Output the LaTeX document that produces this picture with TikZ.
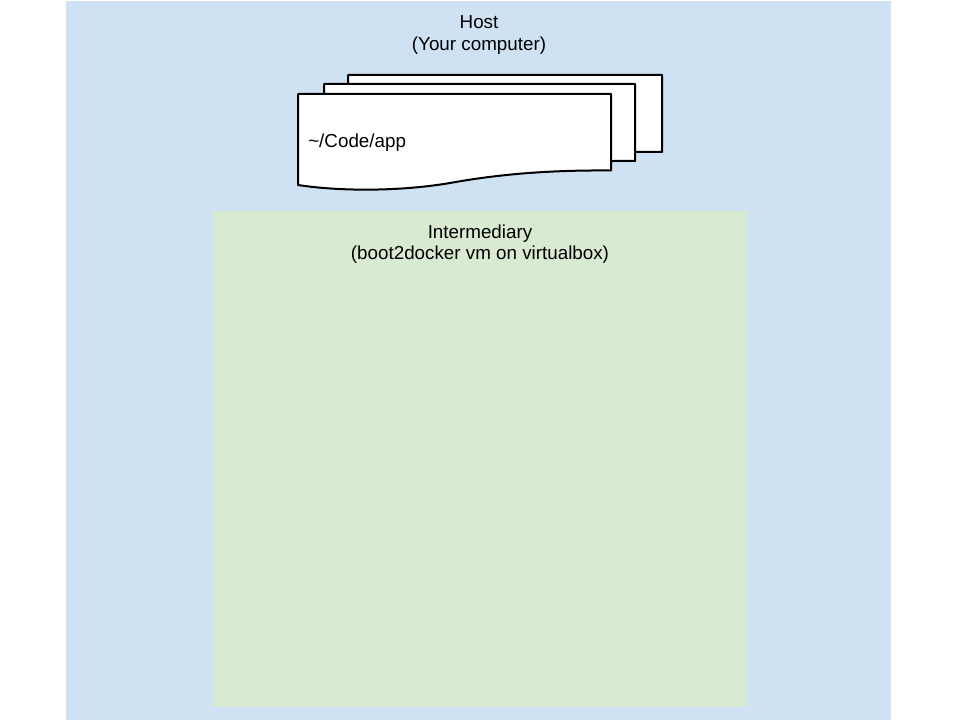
\documentclass[tikz,border=0pt]{standalone}
\usepackage{fontspec}
\setmainfont{Liberation Sans}
\definecolor{hostc}{HTML}{CFE2F3}
\definecolor{interc}{HTML}{D9EAD3}
\tikzset{x=0.75pt,y=-0.75pt,
 region/.style={draw=none,inner sep=0,outer sep=0,anchor=north west},
 lbl/.style={font=\fontsize{14.1pt}{16.2pt}\selectfont,align=center,anchor=center,inner sep=0},
 page/.style={draw=black,fill=white,line width=1.5pt,line join=round}}
\begin{document}
\begin{tikzpicture}
\useasboundingbox (0,0) rectangle (960,720);
\fill[white] (0,0) rectangle (960,720);
\node[region,fill=hostc,minimum width=825*0.75pt,minimum height=719*0.75pt] (host) at (66,1) {};
\node[region,fill=interc,minimum width=533.5*0.75pt,minimum height=496*0.75pt] (inter) at (213,211) {};
\node[lbl] (hostlbl) at (479,35) {Host\\(Your computer)};
\node[lbl] (interlbl) at (480,244) {Intermediary\\(boot2docker vm on virtualbox)};
\draw[page] (348,75) -- (662,75) -- (662,152) .. controls (630,151) and (600,153) .. (570,158) -- (348,165) -- cycle;
\draw[page] (324,84) -- (635,84) -- (635,161) .. controls (600,160) and (570,164) .. (540,170) -- (324,175) -- cycle;
\draw[page] (298,94) -- (611,94) -- (611,170.5) .. controls (550,170) and (500,174) .. (450,183) .. controls (400,191.5) and (340,191.5) .. (298,185) -- cycle;
\node[lbl,anchor=west] (code) at (308,143) {\textasciitilde/Code/app};
\end{tikzpicture}
\end{document}
